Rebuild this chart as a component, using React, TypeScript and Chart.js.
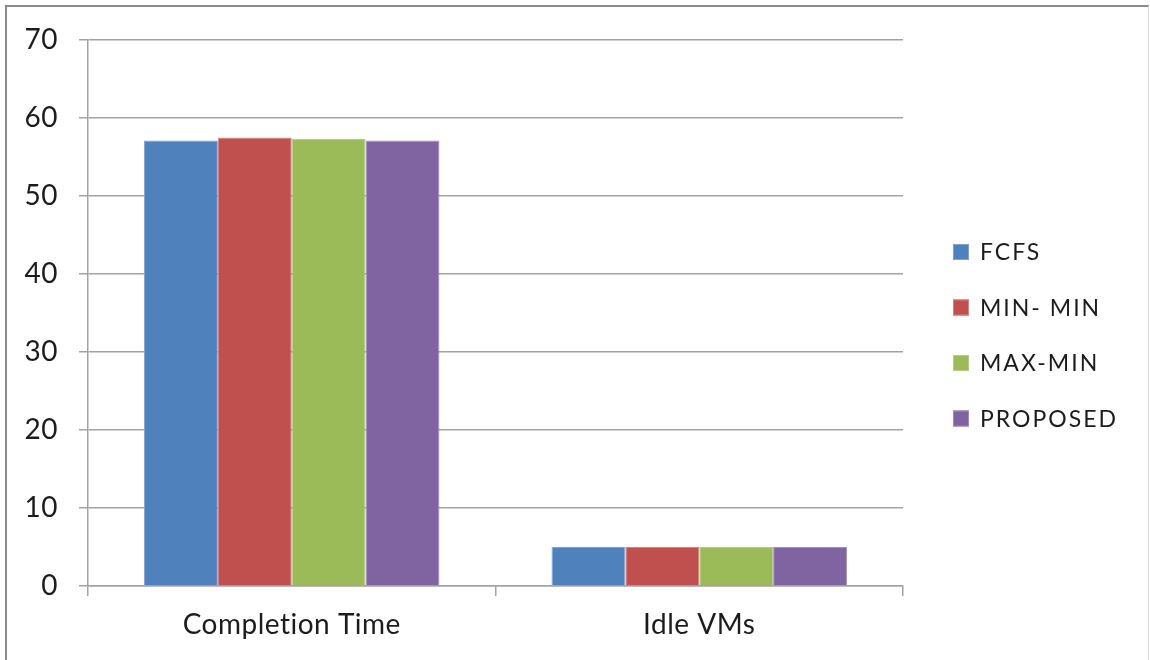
import React, { useEffect, useRef } from "react";
import { Chart, registerables } from "chart.js";

Chart.register(...registerables);

// Categories on the horizontal axis
const categories = ["Completion Time", "Idle VMs"];

// One series per scheduling algorithm: [completion time, idle VMs]
const fcfs = [57.1, 5];
const minMin = [57.5, 5];
const maxMin = [57.3, 5];
const proposed = [57.1, 5];

const seriesNames = ["FCFS", "MIN- MIN", "MAX-MIN", "PROPOSED"];
const seriesValues = [fcfs, minMin, maxMin, proposed];

// Value axis ticks
const yTicks = [0, 10, 20, 30, 40, 50, 60, 70];

const fills = ["#4f81bd", "#c0504d", "#9bbb59", "#8064a2"];
const edges = ["#7fa1cf", "#d4817f", "#b5cd88", "#a08bbd"];

const AXIS_GREY = "#a3a3a3";
const TEXT = "#1c1c1c";
const LABEL_FONT = "Lato, 'Open Sans', sans-serif";

// A touch of tracking on all canvas text (also keeps "ti" from joining up)
const textTracking = {
  id: "textTracking",
  beforeDraw(chart: any) {
    try {
      (chart.ctx as any).letterSpacing = "0.5px";
    } catch (e) {}
  },
};

// Legend stacked vertically to the right of the plot area
const sideLegend = {
  id: "sideLegend",
  afterDraw(chart: any) {
    const { ctx, chartArea } = chart;
    ctx.save();
    ctx.font = `23px ${LABEL_FONT}`;
    try {
      (ctx as any).letterSpacing = "2px";
    } catch (e) {}
    ctx.textBaseline = "middle";
    ctx.textAlign = "left";
    chart.data.datasets.forEach((ds: any, i: number) => {
      const cy = chartArea.top + 212 + i * 55.5;
      const x = chartArea.right + 50;
      ctx.fillStyle = ds.backgroundColor;
      ctx.fillRect(x, cy - 8, 16, 16);
      ctx.strokeStyle = ds.borderColor;
      ctx.lineWidth = 1;
      ctx.strokeRect(x + 0.5, cy - 7.5, 15, 15);
      ctx.fillStyle = TEXT;
      ctx.fillText(ds.label, x + 27, cy + 1);
    });
    ctx.restore();
  },
};

function BarChart() {
  const canvasRef = useRef<HTMLCanvasElement | null>(null);

  useEffect(() => {
    const canvas = canvasRef.current;
    if (!canvas) return;
    const chart = new Chart(canvas, {
      type: "bar",
      data: {
        labels: categories,
        datasets: seriesNames.map((name, i) => ({
          label: name,
          data: seriesValues[i],
          backgroundColor: fills[i],
          borderColor: edges[i],
          borderWidth: 1,
          borderSkipped: "bottom",
          categoryPercentage: 0.725,
          barPercentage: 1.0,
        })),
      },
      options: {
        responsive: false,
        animation: false,
        events: [],
        layout: { padding: { top: 40, right: 247, bottom: 0, left: 0 } },
        plugins: {
          legend: { display: false },
          tooltip: { enabled: false },
        },
        scales: {
          x: {
            afterFit(scale: any) {
              scale.height = 74;
            },
            grid: {
              offset: true,
              drawOnChartArea: false,
              drawTicks: true,
              tickLength: 10,
              color: AXIS_GREY,
              lineWidth: 1.5,
            },
            border: { display: true, color: AXIS_GREY, width: 1.5 },
            ticks: {
              color: TEXT,
              padding: 12,
              font: { family: LABEL_FONT, size: 28 },
              maxRotation: 0,
            },
          },
          y: {
            min: 0,
            max: 70,
            afterFit(scale: any) {
              scale.width = 88;
            },
            afterBuildTicks(scale: any) {
              scale.ticks = yTicks.map((v) => ({ value: v }));
            },
            grid: {
              color: AXIS_GREY,
              lineWidth: 1.5,
              drawTicks: true,
              tickLength: 9,
            },
            border: { display: true, color: AXIS_GREY, width: 1.5 },
            ticks: {
              color: TEXT,
              padding: 21,
              font: { family: LABEL_FONT, size: 28 },
            },
          },
        },
      },
      plugins: [textTracking, sideLegend],
    });
    return () => chart.destroy();
  }, []);

  return <canvas ref={canvasRef} width={1150} height={660} style={{ display: "block" }} />;
}

export default function App() {
  return (
    <div
      style={{
        position: "fixed",
        left: 0,
        top: 0,
        width: 1150,
        height: 660,
        overflow: "hidden",
        background: "#ffffff",
      }}
    >
      <BarChart />
      <div
        style={{
          position: "absolute",
          left: 5,
          top: 5,
          width: 1141,
          height: 700,
          borderLeft: "2px solid #8a8a8a",
          borderTop: "2px solid #8a8a8a",
          borderRight: "1px solid #d9d9d9",
          pointerEvents: "none",
        }}
      />
    </div>
  );
}
